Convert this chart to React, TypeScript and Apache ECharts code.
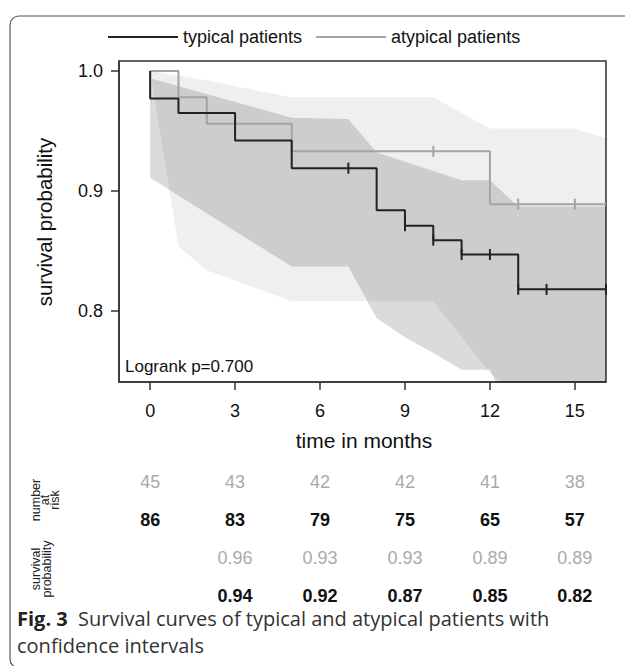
import React, { useEffect, useRef } from 'react';
import * as echarts from 'echarts';

// Kaplan-Meier step curves [time, survival]
const typicalCurve = [[0, 1.0], [0, 0.977], [1, 0.965], [3, 0.942], [5, 0.919], [8, 0.884], [9, 0.871], [10, 0.859], [11, 0.847], [13, 0.818], [16.1, 0.818]];
const atypicalCurve = [[0, 1.0], [1, 0.978], [2, 0.956], [5, 0.933], [12, 0.889], [16.1, 0.889]];
// censor marks
const typicalCensor = [[7, 0.919], [9, 0.871], [10, 0.859], [11, 0.847], [12, 0.847], [13, 0.818], [14, 0.818], [16.1, 0.818]];
const atypicalCensor = [[10, 0.933], [13, 0.889], [15, 0.889]];
// confidence bands
const typicalUpper = [[0, 0.994], [5, 0.961], [7, 0.96], [8, 0.932], [11, 0.909], [12, 0.909], [13, 0.887], [16.1, 0.887]];
const typicalLower = [[0, 0.911], [5, 0.837], [7, 0.837], [8, 0.794], [9, 0.778], [10, 0.765], [11, 0.751], [12, 0.751], [13, 0.7], [16.1, 0.68]];
const atypicalUpper = [[0, 1.0], [1, 0.996], [2, 0.992], [5, 0.978], [10, 0.978], [12, 0.952], [15, 0.952], [16.1, 0.944]];
const atypicalLower = [[0, 1.0], [1, 0.854], [2, 0.834], [5, 0.808], [10, 0.808], [12, 0.748], [13, 0.73], [16.1, 0.72]];

const xTicks = [0, 3, 6, 9, 12, 15];
const yTicks = [0.8, 0.9, 1.0];

// risk table
const tableTimes = [0, 3, 6, 9, 12, 15];
const atRiskAtypical = [45, 43, 42, 42, 41, 38];
const atRiskTypical = [86, 83, 79, 75, 65, 57];
const survAtypical = [null, 0.96, 0.93, 0.93, 0.89, 0.89];
const survTypical = [null, 0.94, 0.92, 0.87, 0.85, 0.82];

const seriesNames = ['typical patients', 'atypical patients'];
const FONT = "'Liberation Sans', Arial, sans-serif";
const CAP_FONT = "'Open Sans', 'Noto Sans', sans-serif";

function bandSeries(upper: number[][], lower: number[][], color: string, z: number) {
  const poly = [...upper, ...lower.slice().reverse()];
  return {
    type: 'custom',
    silent: true,
    clip: true,
    z,
    data: [[0, 1]],
    encode: { x: 0, y: 1 },
    renderItem: (params: any, api: any) => {
      const cs = params.coordSys;
      return {
        type: 'polygon',
        shape: { points: poly.map((p) => api.coord(p)) },
        style: { fill: color },
        clipPath: { type: 'rect', shape: { x: cs.x, y: cs.y, width: cs.width, height: cs.height } },
      };
    },
  };
}

function censorSeries(pts: number[][], color: string) {
  return {
    type: 'custom',
    silent: true,
    z: 5,
    data: pts,
    encode: { x: 0, y: 1 },
    renderItem: (params: any, api: any) => {
      const p = api.coord([api.value(0), api.value(1)]);
      return {
        type: 'line',
        shape: { x1: p[0], y1: p[1] - 5.5, x2: p[0], y2: p[1] + 5.5 },
        style: { stroke: color, lineWidth: 2 },
      };
    },
  };
}

export default function App() {
  const ref = useRef<HTMLDivElement>(null);
  useEffect(() => {
    if (!ref.current) return;
    const chart = echarts.init(ref.current, null, { renderer: 'svg' });
    const option: any = {
      animation: false,
      backgroundColor: '#fff',
      legend: {
        data: seriesNames,
        left: 108,
        top: 28,
        icon: 'rect',
        itemWidth: 70,
        itemHeight: 2,
        itemGap: 14,
        padding: 0,
        textStyle: { fontSize: 18, color: '#111', fontFamily: FONT },
      },
      grid: {
        left: 119, top: 61, width: 487, height: 321,
        show: true, borderColor: '#333', borderWidth: 1.5,
        outerBoundsMode: 'none',
      },
      xAxis: {
        type: 'value', min: -1.1, max: 16.1,
        splitLine: { show: false },
        axisLine: { show: true, onZero: false, lineStyle: { color: '#333', width: 1.5 } },
        axisTick: { show: true, customValues: xTicks, length: 8, lineStyle: { color: '#333', width: 1.5 } },
        axisLabel: { customValues: xTicks, fontSize: 18, color: '#111', margin: 20, fontFamily: FONT },
      },
      yAxis: {
        type: 'value', min: 0.7408, max: 1.0083,
        splitLine: { show: false },
        axisLine: { show: true, onZero: false, lineStyle: { color: '#333', width: 1.5 } },
        axisTick: { show: true, customValues: yTicks, length: 8, lineStyle: { color: '#333', width: 1.5 } },
        axisLabel: { customValues: yTicks, fontSize: 18, color: '#111', margin: 16, fontFamily: FONT, formatter: (v: number) => v.toFixed(1) },
      },
      series: [
        bandSeries(atypicalUpper, atypicalLower, 'rgba(0,0,0,0.063)', 1),
        bandSeries(typicalUpper, typicalLower, 'rgba(0,0,0,0.14)', 2),
        {
          name: seriesNames[0], type: 'line', step: 'end', data: typicalCurve,
          symbol: 'none', showSymbol: false, z: 4,
          lineStyle: { color: '#222', width: 2 }, itemStyle: { color: '#222' },
        },
        {
          name: seriesNames[1], type: 'line', step: 'end', data: atypicalCurve,
          symbol: 'none', showSymbol: false, z: 3,
          lineStyle: { color: '#a4a4a4', width: 2 }, itemStyle: { color: '#a4a4a4' },
        },
        censorSeries(typicalCensor, '#222'),
        censorSeries(atypicalCensor, '#a4a4a4'),
      ],
    };
    chart.setOption(option);

    const g: any[] = [];
    g.push({
      type: 'rect', shape: { x: 10, y: 16, width: 640, height: 652, r: 9 },
      style: { fill: 'none', stroke: '#555', lineWidth: 1.2 }, silent: true,
    });
    g.push({
      type: 'text', x: 44, y: 222, rotation: Math.PI / 2,
      style: { text: 'survival probability', fontSize: 20.5, fill: '#111', fontFamily: FONT, align: 'center', verticalAlign: 'middle' },
    });
    g.push({
      type: 'text', x: 364, y: 440,
      style: { text: 'time in months', fontSize: 21, fill: '#111', fontFamily: FONT, align: 'center', verticalAlign: 'middle' },
    });
    g.push({
      type: 'text', x: 125, y: 366,
      style: { text: 'Logrank p=0.700', fontSize: 17, fill: '#111', fontFamily: FONT, align: 'left', verticalAlign: 'middle' },
    });
    g.push({
      type: 'text', x: 45, y: 500, rotation: Math.PI / 2,
      style: { text: 'number\nat\nrisk', fontSize: 12.5, lineHeight: 9.5, fill: '#222', fontFamily: FONT, align: 'center', verticalAlign: 'middle' },
    });
    g.push({
      type: 'text', x: 41, y: 569, rotation: Math.PI / 2,
      style: { text: 'survival\nprobability', fontSize: 12.5, lineHeight: 11, fill: '#222', fontFamily: FONT, align: 'center', verticalAlign: 'middle' },
    });
    const rows: [any[], number, string, string][] = [
      [atRiskAtypical, 482, '#aaa', 'normal'],
      [atRiskTypical, 520, '#111', 'bold'],
      [survAtypical, 558, '#aaa', 'normal'],
      [survTypical, 596, '#111', 'bold'],
    ];
    rows.forEach(([vals, y, color, weight]) => {
      vals.forEach((v, i) => {
        if (v === null) return;
        const x = chart.convertToPixel({ xAxisIndex: 0 }, tableTimes[i]) as number;
        g.push({
          type: 'text', x, y,
          style: { text: String(v), fontSize: 18, lineHeight: 18, fill: color, fontWeight: weight, fontFamily: FONT, align: 'center', verticalAlign: 'middle' },
        });
      });
    });
    g.push({
      type: 'text', x: 17, y: 618,
      style: {
        text: '{b|Fig. 3}  Survival curves of typical and atypical patients with',
        fontSize: 20, lineHeight: 20, fill: '#333', fontFamily: CAP_FONT, align: 'left', verticalAlign: 'middle',
        rich: { b: { fontWeight: 'bold', fill: '#222', fontSize: 20, lineHeight: 20, fontFamily: CAP_FONT } },
      },
    });
    g.push({
      type: 'text', x: 17, y: 645,
      style: { text: 'confidence intervals', fontSize: 20, lineHeight: 20, fill: '#333', fontFamily: CAP_FONT, align: 'left', verticalAlign: 'middle' },
    });
    chart.setOption({ graphic: g });

    return () => chart.dispose();
  }, []);
  return (
    <div
      ref={ref}
      style={{ position: 'fixed', left: 0, top: 0, width: 625, height: 666, background: '#fff' }}
    />
  );
}
